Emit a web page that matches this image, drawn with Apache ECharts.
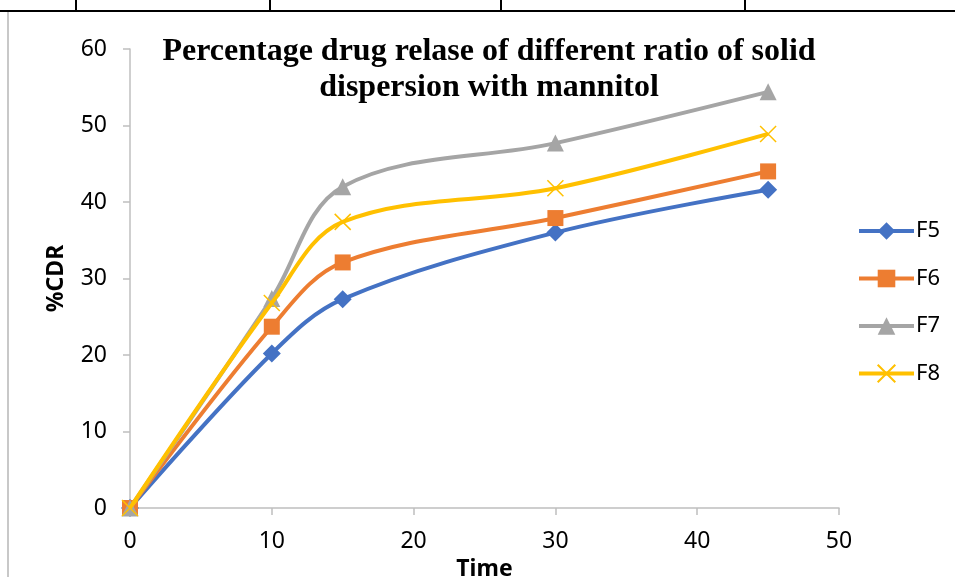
<!DOCTYPE html>
<html>
<head>
<meta charset="utf-8">
<script src="https://cdn.jsdelivr.net/npm/echarts@6/dist/echarts.min.js"></script>
<style>
  html, body { margin: 0; padding: 0; background: #fff; }
  #chart { width: 955px; height: 577px; }
</style>
</head>
<body>
<div id="chart"></div>
<script>
// data
const time = [0, 10, 15, 30, 45];
const f5 = [0, 20.2, 27.3, 36.0, 41.6];
const f6 = [0, 23.7, 32.1, 37.9, 44.0];
const f7 = [0, 27.4, 42.0, 47.7, 54.4];
const f8 = [0, 26.8, 37.4, 41.8, 48.9];
const seriesNames = ['F5', 'F6', 'F7', 'F8'];

const colors = ['#4472C4', '#ED7D31', '#A5A5A5', '#FFC000'];
const symbols = ['diamond', 'rect', 'triangle', 'path://M0,0L10,10M10,0L0,10'];
const symbolSizes = [18, 16, 17, 16];

const pairs = (ys) => time.map((t, i) => [t, ys[i]]);
const allData = [f5, f6, f7, f8];

const chartDom = document.getElementById('chart');
const myChart = echarts.init(chartDom);

const axisGrey = '#BFBFBF';
const labelFont = { color: '#000', fontSize: 23, fontFamily: 'Noto Sans' };

const option = {
  animation: false,
  backgroundColor: '#fff',
  grid: { left: 130, right: 116, top: 49, bottom: 69, containLabel: false, outerBoundsMode: 'none' },
  legend: {
    orient: 'vertical',
    left: 852,
    top: 215,
    itemWidth: 55,
    itemHeight: 22,
    itemGap: 25.5,
    lineStyle: { width: 4 },
    textStyle: { color: '#000', fontSize: 22, fontFamily: 'Noto Sans', padding: [0, 0, 0, -3] },
    data: seriesNames
  },
  xAxis: {
    type: 'value',
    min: 0,
    max: 50,
    interval: 10,
    name: 'Time',
    nameLocation: 'middle',
    nameGap: 47,
    nameTextStyle: { color: '#000', fontSize: 23, fontWeight: 'bold', fontFamily: 'Noto Sans' },
    axisLine: { show: true, lineStyle: { color: axisGrey, width: 1.5 } },
    axisTick: { show: true, length: 7, lineStyle: { color: axisGrey, width: 1.5 } },
    axisLabel: Object.assign({ margin: 22 }, labelFont),
    splitLine: { show: false }
  },
  yAxis: {
    type: 'value',
    min: 0,
    max: 60,
    interval: 10,
    name: '%CDR',
    nameLocation: 'middle',
    nameGap: 62,
    nameTextStyle: { color: '#000', fontSize: 23, fontWeight: 'bold', fontFamily: 'Noto Sans' },
    axisLine: { show: true, lineStyle: { color: axisGrey, width: 1.5 } },
    axisTick: { show: true, length: 7, lineStyle: { color: axisGrey, width: 1.5 } },
    axisLabel: Object.assign({ margin: 23 }, labelFont),
    splitLine: { show: false }
  },
  series: seriesNames.map((name, i) => ({
    name: name,
    type: 'line',
    smooth: 0.35,
    data: pairs(allData[i]),
    symbol: symbols[i],
    symbolSize: symbolSizes[i],
    showSymbol: true,
    lineStyle: { color: colors[i], width: 4 },
    itemStyle: i === 3
      ? { color: colors[i], borderColor: colors[i], borderWidth: 1.5 }
      : { color: colors[i] },
    z: 2 + i
  })),
  graphic: [
    // title
    {
      type: 'text',
      x: 489,
      y: 34,
      style: {
        text: 'Percentage drug relase of different ratio of solid\ndispersion with mannitol',
        textAlign: 'center',
        font: 'bold 32px "Liberation Serif"',
        lineHeight: 36,
        fill: '#000'
      },
      z: 100
    },
    // page table borders around the figure
    { type: 'line', shape: { x1: 0, y1: 11, x2: 955, y2: 11 }, style: { stroke: '#000', lineWidth: 2 } },
    { type: 'line', shape: { x1: 76, y1: 0, x2: 76, y2: 11 }, style: { stroke: '#000', lineWidth: 2 } },
    { type: 'line', shape: { x1: 270, y1: 0, x2: 270, y2: 11 }, style: { stroke: '#000', lineWidth: 2 } },
    { type: 'line', shape: { x1: 501, y1: 0, x2: 501, y2: 11 }, style: { stroke: '#000', lineWidth: 2 } },
    { type: 'line', shape: { x1: 745, y1: 0, x2: 745, y2: 11 }, style: { stroke: '#000', lineWidth: 2 } },
    { type: 'line', shape: { x1: 8, y1: 12, x2: 8, y2: 577 }, style: { stroke: '#C8C8C8', lineWidth: 2 } }
  ]
};

myChart.setOption(option);
</script>
</body>
</html>
